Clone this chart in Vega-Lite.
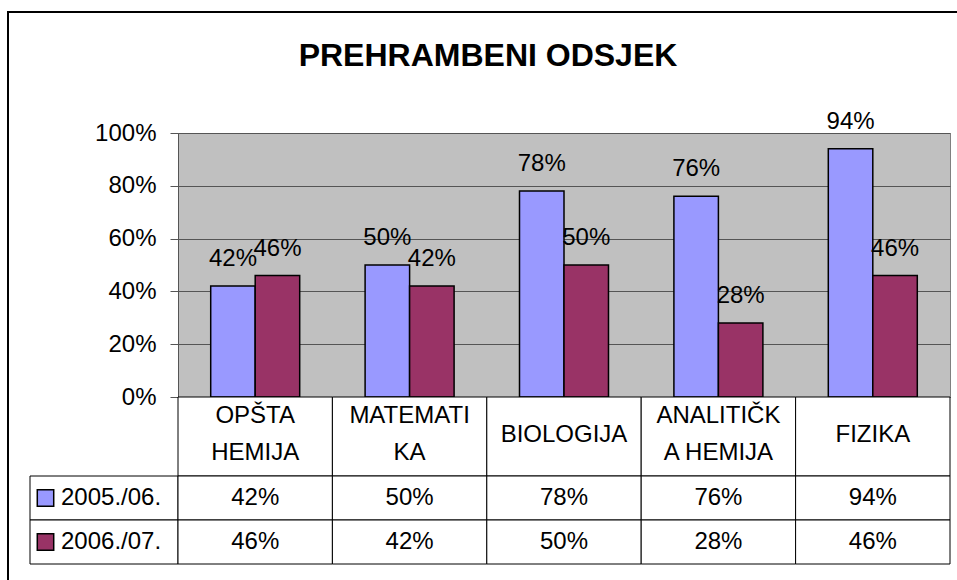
{
  "$schema": "https://vega.github.io/schema/vega-lite/v6.json",
  "padding": 0,
  "background": "white",
  "spacing": 0,
  "bounds": "flush",
  "columns": 5,
  "config": {
    "view": {"stroke": null},
    "font": "Liberation Sans",
    "text": {"font": "Liberation Sans", "fontSize": 24, "color": "black"}
  },
  "datasets": {
    "main": [
      {"subject": "OPŠTA\nHEMIJA", "series": "2005./06.", "value": 0.42},
      {"subject": "MATEMATI\nKA", "series": "2005./06.", "value": 0.50},
      {"subject": "BIOLOGIJA", "series": "2005./06.", "value": 0.78},
      {"subject": "ANALITIČK\nA HEMIJA", "series": "2005./06.", "value": 0.76},
      {"subject": "FIZIKA", "series": "2005./06.", "value": 0.94},
      {"subject": "OPŠTA\nHEMIJA", "series": "2006./07.", "value": 0.46},
      {"subject": "MATEMATI\nKA", "series": "2006./07.", "value": 0.42},
      {"subject": "BIOLOGIJA", "series": "2006./07.", "value": 0.50},
      {"subject": "ANALITIČK\nA HEMIJA", "series": "2006./07.", "value": 0.28},
      {"subject": "FIZIKA", "series": "2006./07.", "value": 0.46}
    ]
  },
  "concat": [
    {"width": 7, "height": 11, "data": {"values": []}, "mark": "point", "encoding": {}},
    {"width": 1, "height": 1, "data": {"values": []}, "mark": "point", "encoding": {}},
    {"width": 21, "height": 1, "data": {"values": []}, "mark": "point", "encoding": {}},
    {"width": 1, "height": 1, "data": {"values": []}, "mark": "point", "encoding": {}},
    {"width": 1, "height": 1, "data": {"values": []}, "mark": "point", "encoding": {}},

    {"width": 1, "height": 1, "data": {"values": []}, "mark": "point", "encoding": {}},
    {"width": 2, "height": 2, "data": {"values": []}, "mark": "point", "encoding": {}, "view": {"fill": "black", "stroke": null}},
    {"width": 21, "height": 2, "data": {"values": []}, "mark": "point", "encoding": {}, "view": {"fill": "black", "stroke": null}},
    {"width": 148, "height": 2, "data": {"values": []}, "mark": "point", "encoding": {}, "view": {"fill": "black", "stroke": null}},
    {"width": 779, "height": 2, "data": {"values": []}, "mark": "point", "encoding": {}, "view": {"fill": "black", "stroke": null}},

    {"width": 1, "height": 1, "data": {"values": []}, "mark": "point", "encoding": {}},
    {"width": 2, "height": 120, "data": {"values": []}, "mark": "point", "encoding": {}, "view": {"fill": "black", "stroke": null}},
    {"width": 1, "height": 1, "data": {"values": []}, "mark": "point", "encoding": {}},
    {"width": 1, "height": 1, "data": {"values": []}, "mark": "point", "encoding": {}},
    {
      "width": 772, "height": 120,
      "data": {"values": []}, "mark": "point", "encoding": {},
      "title": {
        "text": "PREHRAMBENI ODSJEK",
        "orient": "bottom",
        "frame": "group",
        "anchor": "middle",
        "baseline": "alphabetic",
        "offset": -67,
        "dx": -76,
        "fontSize": 32,
        "font": "Liberation Sans",
        "fontWeight": "bold",
        "color": "black"
      }
    },

    {"width": 1, "height": 1, "data": {"values": []}, "mark": "point", "encoding": {}},
    {"width": 2, "height": 264, "data": {"values": []}, "mark": "point", "encoding": {}, "view": {"fill": "black", "stroke": null}},
    {"width": 1, "height": 1, "data": {"values": []}, "mark": "point", "encoding": {}},
    {"width": 1, "height": 1, "data": {"values": []}, "mark": "point", "encoding": {}},
    {
      "width": 772, "height": 264,
      "view": {"fill": "#C0C0C0", "stroke": "#808080"},
      "data": {"name": "main"},
      "encoding": {
        "x": {"field": "subject", "type": "nominal", "sort": null, "scale": {"paddingInner": 0, "paddingOuter": 0}, "axis": null},
        "xOffset": {"field": "series", "type": "nominal", "sort": null, "scale": {"paddingInner": 0, "paddingOuter": 0.735}},
        "y": {
          "field": "value", "type": "quantitative",
          "scale": {"domain": [0, 1], "nice": false},
          "axis": {
            "values": [0, 0.2, 0.4, 0.6, 0.8, 1],
            "format": ".0%",
            "title": null,
            "grid": true,
            "gridColor": "#555555",
            "gridOpacity": 1,
            "tickSize": 8,
            "tickColor": "#555555",
            "domainColor": "#555555",
            "labelFontSize": 24,
            "labelPadding": 14,
            "labelColor": "black",
            "labelFont": "Liberation Sans"
          }
        }
      },
      "layer": [
        {
          "mark": {"type": "bar", "stroke": "black", "strokeWidth": 1.5},
          "encoding": {
            "color": {"field": "series", "type": "nominal", "sort": null, "scale": {"domain": ["2005./06.", "2006./07."], "range": ["#9999FF", "#993366"]}, "legend": null}
          }
        },
        {
          "mark": {"type": "text", "baseline": "alphabetic", "dy": -20, "fontSize": 24},
          "encoding": {"text": {"field": "value", "type": "quantitative", "format": ".0%"}}
        }
      ]
    },

    {"width": 1, "height": 1, "data": {"values": []}, "mark": "point", "encoding": {}},
    {"width": 2, "height": 79, "data": {"values": []}, "mark": "point", "encoding": {}, "view": {"fill": "black", "stroke": null}},
    {"width": 1, "height": 1, "data": {"values": []}, "mark": "point", "encoding": {}},
    {"width": 1, "height": 1, "data": {"values": []}, "mark": "point", "encoding": {}},
    {
      "width": 772, "height": 79,
      "data": {"name": "main"},
      "transform": [{"filter": "datum.series === '2005./06.'"}],
      "encoding": {
        "x": {"field": "subject", "type": "nominal", "sort": null, "scale": {"paddingInner": 0, "paddingOuter": 0}, "axis": null}
      },
      "layer": [
        {"mark": {"type": "rect", "fill": "white", "stroke": "black", "strokeWidth": 1}},
        {
          "transform": [{"filter": "indexof(datum.subject, '\\n') < 0"}],
          "mark": {"type": "text", "fontSize": 24, "baseline": "middle", "dy": -2},
          "encoding": {"text": {"field": "subject"}}
        },
        {
          "transform": [{"filter": "indexof(datum.subject, '\\n') >= 0"}],
          "mark": {"type": "text", "fontSize": 24, "lineBreak": "\n", "lineHeight": 37, "baseline": "middle", "dy": -20.5},
          "encoding": {"text": {"field": "subject"}}
        }
      ]
    },

    {"width": 1, "height": 1, "data": {"values": []}, "mark": "point", "encoding": {}},
    {"width": 2, "height": 104, "data": {"values": []}, "mark": "point", "encoding": {}, "view": {"fill": "black", "stroke": null}},
    {"width": 1, "height": 1, "data": {"values": []}, "mark": "point", "encoding": {}},
    {
      "width": 148, "height": 88,
      "data": {"name": "main"},
      "transform": [{"filter": "datum.subject === 'FIZIKA'"}],
      "encoding": {
        "y": {"field": "series", "type": "nominal", "sort": null, "scale": {"paddingInner": 0, "paddingOuter": 0}, "axis": null}
      },
      "layer": [
        {"mark": {"type": "rect", "fill": "white", "stroke": "black", "strokeWidth": 1}},
        {
          "mark": {"type": "point", "shape": "square", "size": 270, "filled": true, "stroke": "black", "strokeWidth": 1.5, "opacity": 1, "xOffset": -58.5},
          "encoding": {"fill": {"field": "series", "type": "nominal", "sort": null, "scale": {"domain": ["2005./06.", "2006./07."], "range": ["#9999FF", "#993366"]}, "legend": null}}
        },
        {"mark": {"type": "text", "align": "left", "dx": -43, "fontSize": 24}, "encoding": {"text": {"field": "series"}}}
      ]
    },
    {
      "width": 772, "height": 88,
      "data": {"name": "main"},
      "encoding": {
        "x": {"field": "subject", "type": "nominal", "sort": null, "scale": {"paddingInner": 0, "paddingOuter": 0}, "axis": null},
        "y": {"field": "series", "type": "nominal", "sort": null, "scale": {"paddingInner": 0, "paddingOuter": 0}, "axis": null}
      },
      "layer": [
        {"mark": {"type": "rect", "fill": "white", "stroke": "black", "strokeWidth": 1}},
        {"mark": {"type": "text", "fontSize": 24}, "encoding": {"text": {"field": "value", "type": "quantitative", "format": ".0%"}}}
      ]
    }
  ]
}
